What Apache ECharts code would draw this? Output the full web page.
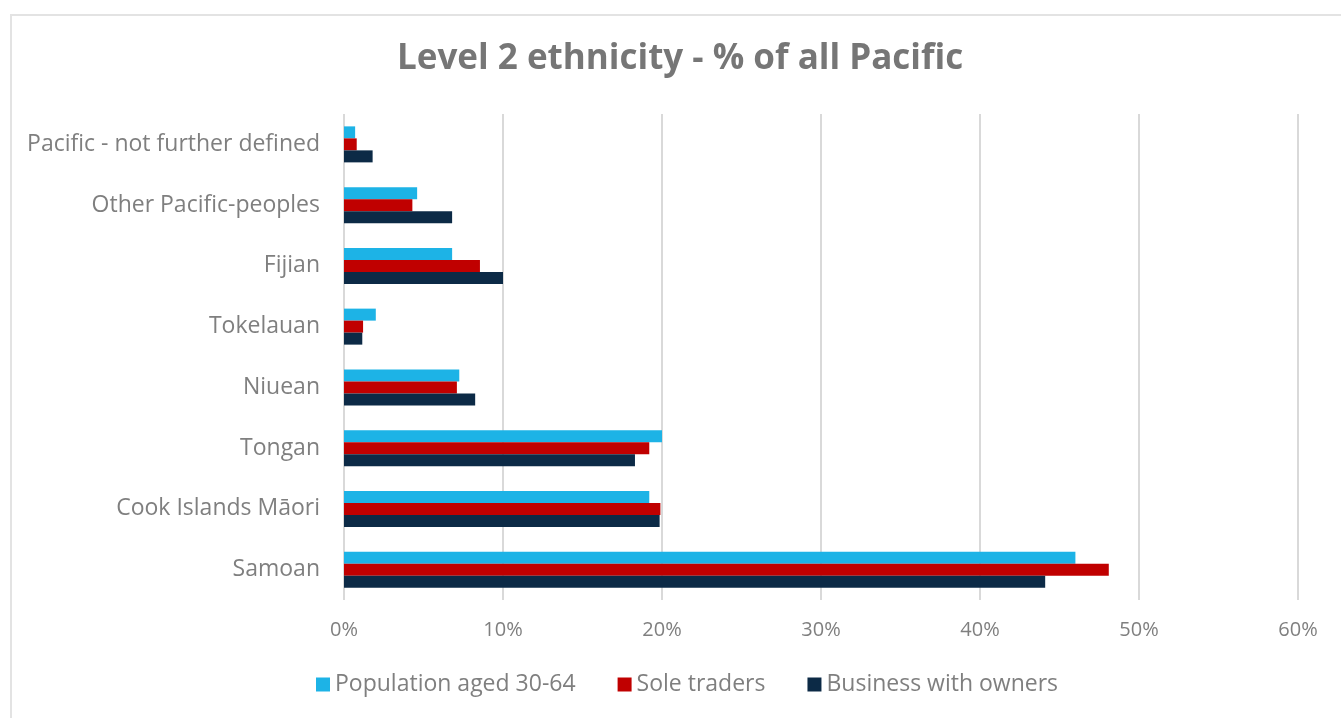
<!DOCTYPE html>
<html>
<head>
<meta charset="utf-8">
<script src="https://cdn.jsdelivr.net/npm/echarts@6/dist/echarts.min.js"></script>
<style>
  html, body { margin: 0; padding: 0; background: #fff; }
  #frame { position: absolute; left: 10px; top: 14px; width: 1340px; height: 720px; border: 2px solid #e3e3e3; box-sizing: border-box; }
  #chart { position: absolute; left: 0; top: 0; width: 1341px; height: 718px; }
</style>
</head>
<body>
<div id="frame"></div>
<div id="chart"></div>
<script>
// bottom to top, as the category axis runs
const categories = ['Samoan', 'Cook Islands Māori', 'Tongan', 'Niuean', 'Tokelauan', 'Fijian', 'Other Pacific-peoples', 'Pacific - not further defined'];
const population = [46.0, 19.2, 20.0, 7.25, 2.0, 6.8, 4.6, 0.7];
const soleTraders = [48.1, 19.9, 19.2, 7.1, 1.2, 8.55, 4.3, 0.8];
const businessOwners = [44.1, 19.85, 18.3, 8.25, 1.15, 10.0, 6.8, 1.8];
const xTicks = [0, 10, 20, 30, 40, 50, 60];

const grey = '#7f7f7f';
const font = 'Open Sans';
const chart = echarts.init(document.getElementById('chart'));

chart.setOption({
  animation: false,
  title: {
    text: 'Level 2 ethnicity - % of all Pacific',
    left: 392,
    top: 37,
    textStyle: { color: '#767676', fontSize: 35, fontWeight: 'bold', fontFamily: font }
  },
  legend: {
    data: ['Population aged 30-64', 'Sole traders', 'Business with owners'],
    bottom: 17,
    left: 311,
    itemWidth: 14,
    itemHeight: 14,
    itemGap: 42,
    icon: 'rect',
    textStyle: { color: grey, fontSize: 23, fontFamily: font }
  },
  grid: { left: 344, right: 43, top: 114, bottom: 118 },
  xAxis: {
    type: 'value',
    min: xTicks[0],
    max: xTicks[xTicks.length - 1],
    interval: 10,
    axisLine: { show: false },
    axisTick: { show: false },
    axisLabel: { color: grey, fontSize: 20, fontFamily: font, margin: 20, formatter: v => v + '%' },
    splitLine: { lineStyle: { color: '#d9d9d9', width: 2 } }
  },
  yAxis: {
    type: 'category',
    data: categories,
    axisLine: { show: false },
    axisTick: { show: false },
    axisLabel: { color: grey, fontSize: 23, fontFamily: font, margin: 24 }
  },
  series: [
    { name: 'Population aged 30-64', type: 'bar', data: population, barWidth: 12, barGap: '0%', itemStyle: { color: '#1db3e6' } },
    { name: 'Sole traders', type: 'bar', data: soleTraders, barWidth: 12, barGap: '0%', itemStyle: { color: '#c00000' } },
    { name: 'Business with owners', type: 'bar', data: businessOwners, barWidth: 12, barGap: '0%', itemStyle: { color: '#0c2a46' } }
  ]
});
</script>
</body>
</html>
